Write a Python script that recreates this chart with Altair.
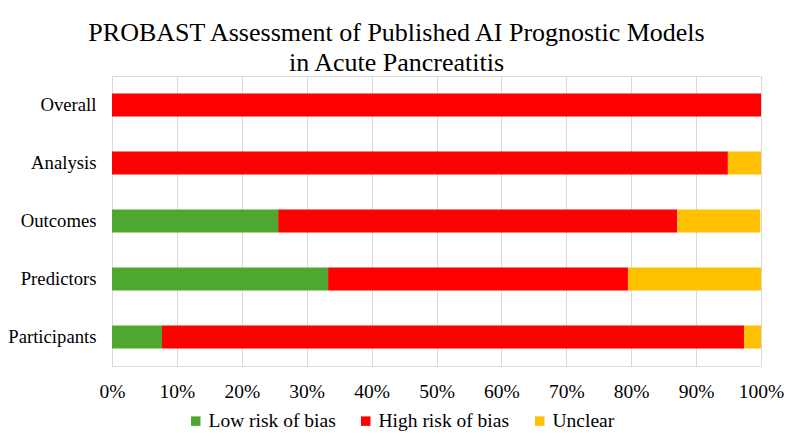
import altair as alt
import pandas as pd

categories = ["Overall", "Analysis", "Outcomes", "Predictors", "Participants"]
series = ["Low risk of bias", "High risk of bias", "Unclear"]
low = [0.0, 0.0, 25.6, 33.3, 7.7]
high = [100.0, 94.9, 61.5, 46.2, 89.7]
unclear = [0.0, 5.1, 12.8, 20.5, 2.6]
colors = ["#4EA72E", "#FF0000", "#FFC000"]
ticks = [0, 10, 20, 30, 40, 50, 60, 70, 80, 90, 100]

rows = []
for i, c in enumerate(categories):
    for j, (s, vals) in enumerate(zip(series, [low, high, unclear])):
        rows.append({"domain": c, "risk": s, "value": vals[i], "ord": j})
df = pd.DataFrame(rows)

font = "Liberation Serif"
fs = 19.5

chart = alt.Chart(df).mark_bar(size=23).encode(
    y=alt.Y("domain:N", sort=categories, title=None,
            axis=alt.Axis(labelFont=font, labelFontSize=18.7, labelColor="#000000",
                          ticks=False, domain=False, labelPadding=16, grid=False)),
    x=alt.X("value:Q", stack="zero", title=None,
            scale=alt.Scale(domain=[0, 100], nice=False),
            axis=alt.Axis(values=ticks, labelExpr="datum.value + '%'",
                          labelFont=font, labelFontSize=fs, labelColor="#000000",
                          labelFlush=False, labelOverlap=False,
                          ticks=False, domain=False, labelPadding=16,
                          grid=True, gridColor="#D9D9D9", gridWidth=1)),
    color=alt.Color("risk:N", sort=series,
                    scale=alt.Scale(domain=series, range=colors),
                    legend=alt.Legend(title=None, orient="none", direction="horizontal",
                                      legendX=74, legendY=335, symbolType="square",
                                      symbolSize=90, symbolStrokeWidth=0, labelOffset=3,
                                      labelFont=font, labelFontSize=fs, labelColor="#000000",
                                      columnPadding=20, symbolOffset=0)),
    order=alt.Order("ord:Q"),
).properties(
    width=649, height=290,
    padding={"left": 104, "top": 68, "right": 27, "bottom": 72},
    autosize=alt.AutoSizeParams(type="none"),
    title=alt.TitleParams(
        text=["PROBAST Assessment of Published AI Prognostic Models", "in Acute Pancreatitis"],
        font=font, fontSize=26, fontWeight="normal", color="#000000",
        anchor="middle", dx=-40, offset=0, lineHeight=30),
).configure_view(stroke=None).configure(background="white")

chart.save("out.html", embed_options={"renderer": "svg", "actions": False})
